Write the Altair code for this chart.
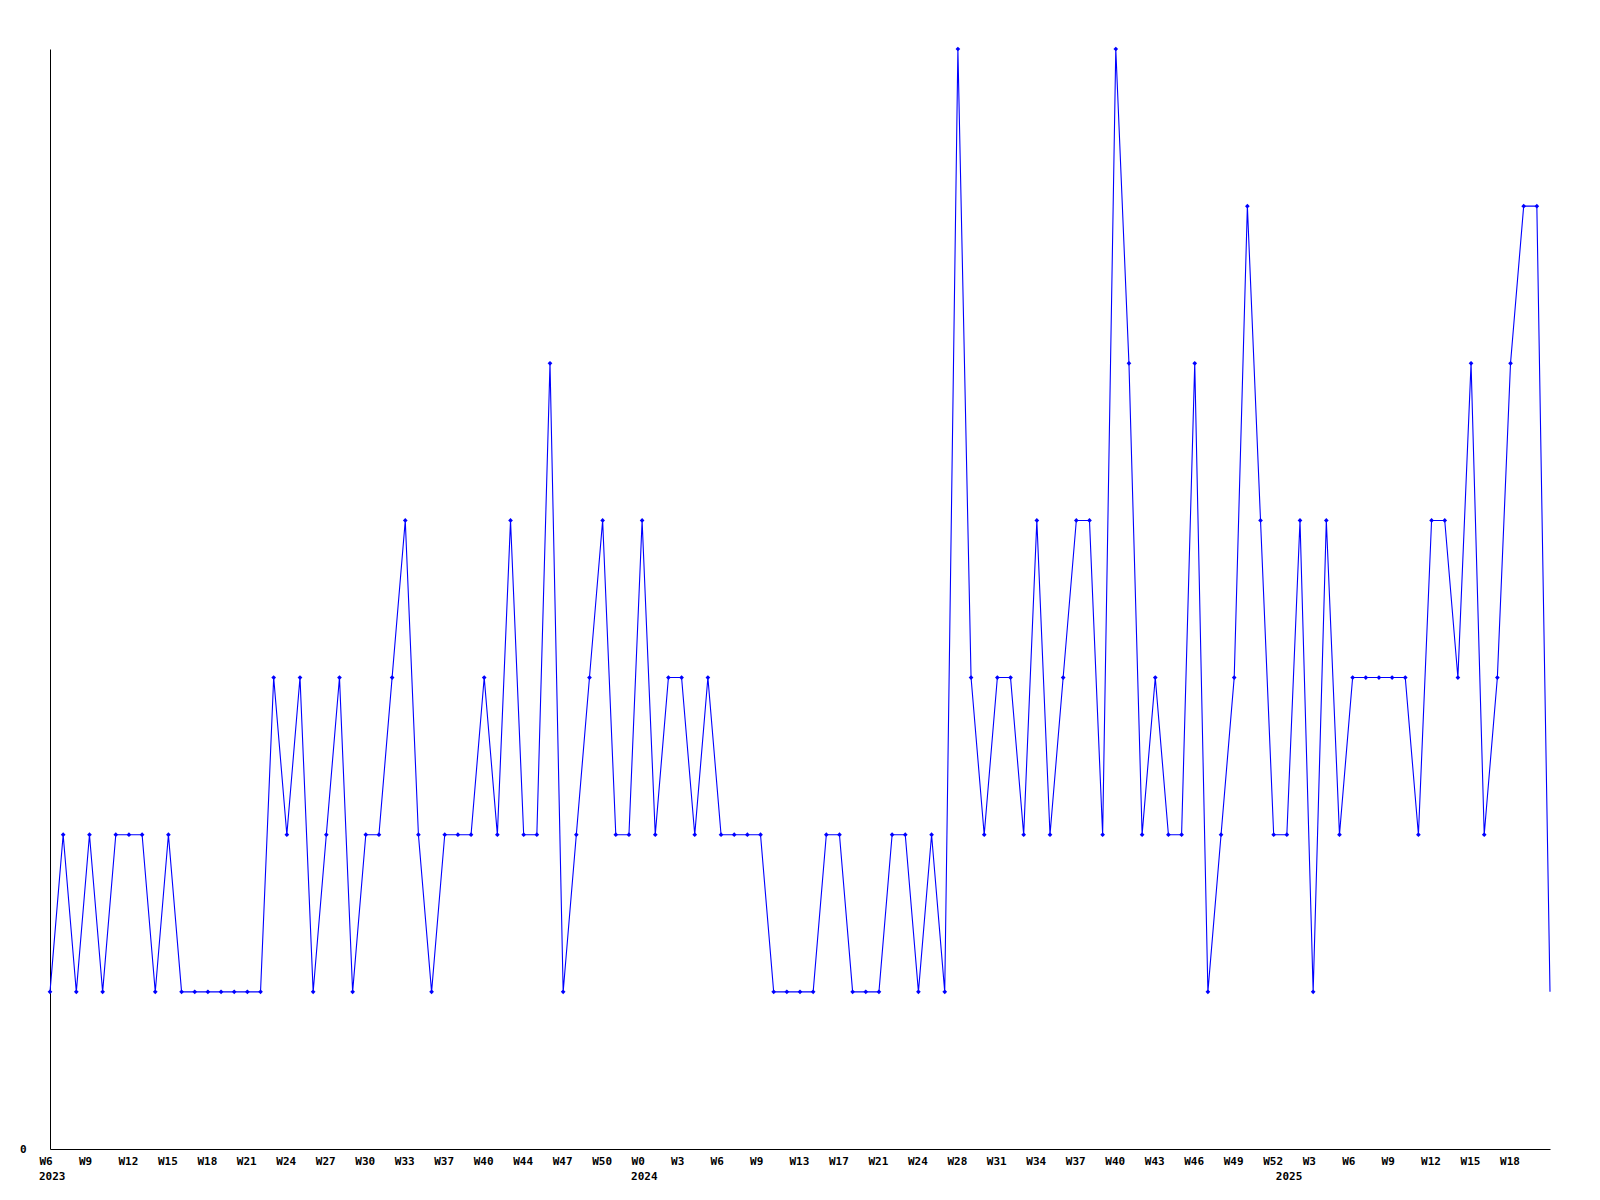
import altair as alt
import pandas as pd

values = [1, 2, 1, 2, 1, 2, 2, 2, 1, 2, 1, 1, 1, 1, 1, 1, 1, 3, 2, 3,
          1, 2, 3, 1, 2, 2, 3, 4, 2, 1, 2, 2, 2, 3, 2, 4, 2, 2, 5, 1,
          2, 3, 4, 2, 2, 4, 2, 3, 3, 2, 3, 2, 2, 2, 2, 1, 1, 1, 1, 2,
          2, 1, 1, 1, 2, 2, 1, 2, 1, 7, 3, 2, 3, 3, 2, 4, 2, 3, 4, 4,
          2, 7, 5, 2, 3, 2, 2, 5, 1, 2, 3, 6, 4, 2, 2, 4, 1, 4, 2, 3,
          3, 3, 3, 3, 2, 4, 4, 3, 5, 2, 3, 5, 6, 6, 1]

week_labels = ["W6", "W9", "W12", "W15", "W18", "W21", "W24", "W27", "W30", "W33",
               "W37", "W40", "W44", "W47", "W50", "W0", "W3", "W6", "W9", "W13",
               "W17", "W21", "W24", "W28", "W31", "W34", "W37", "W40", "W43", "W46",
               "W49", "W52", "W3", "W6", "W9", "W12", "W15", "W18"]
label_step = 3

years = ["2023", "2024", "2025"]
year_pos = [0, 45, 94]

n = len(values)
df = pd.DataFrame({"idx": list(range(n)), "v": values})
ydf = pd.DataFrame({"idx": year_pos, "year": years})

tick_vals = [i * label_step for i in range(len(week_labels))]
arr = "[" + ",".join("'" + s + "'" for s in week_labels) + "]"
label_expr = arr + "[round(datum.value/" + str(label_step) + ")]"

FONT = "DejaVu Sans Mono"
BLUE = "#0000ff"

xscale = alt.Scale(domain=[0, n - 1], nice=False, zero=False)
yscale = alt.Scale(domain=[0, 7], nice=False)

xaxis = alt.Axis(values=tick_vals, labelExpr=label_expr, title=None, grid=False,
                 ticks=False, tickSize=0, labelAlign="left", labelOffset=-11,
                 labelBaseline="top", labelPadding=6, labelFlush=False,
                 labelOverlap=False, labelFont=FONT, labelFontWeight="bold",
                 labelFontSize=11, labelColor="black", domainColor="black",
                 domainWidth=1)
yaxis = alt.Axis(values=[0], format="d", title=None, grid=False, ticks=False,
                 tickSize=0, labelPadding=24, labelFont=FONT,
                 labelFontWeight="bold", labelFontSize=11, labelColor="black",
                 domainColor="black", domainWidth=1)

base = alt.Chart(df)
line = base.mark_line(color=BLUE, strokeWidth=1.1).encode(
    x=alt.X("idx:Q", scale=xscale, axis=xaxis),
    y=alt.Y("v:Q", scale=yscale, axis=yaxis),
)
pts = base.transform_filter(alt.datum.idx < n - 1).mark_point(
    shape="diamond", filled=True, size=22, color=BLUE, opacity=1
).encode(
    x=alt.X("idx:Q", scale=xscale),
    y=alt.Y("v:Q", scale=yscale),
)
yr = alt.Chart(ydf).mark_text(
    align="left", baseline="middle", dx=-11, font=FONT, fontWeight="bold",
    fontSize=11, color="black"
).encode(
    x=alt.X("idx:Q", scale=xscale),
    y=alt.value(1128),
    text="year:N",
)

chart = alt.layer(line, pts, yr).properties(
    width=1500, height=1100,
    autosize=alt.AutoSizeParams(type="none"),
    padding={"left": 42, "top": 41, "right": 42, "bottom": 50},
).configure(background="white", view=alt.ViewConfig(stroke=None))

chart.save("out.html", embed_options={"renderer": "svg", "actions": False})
